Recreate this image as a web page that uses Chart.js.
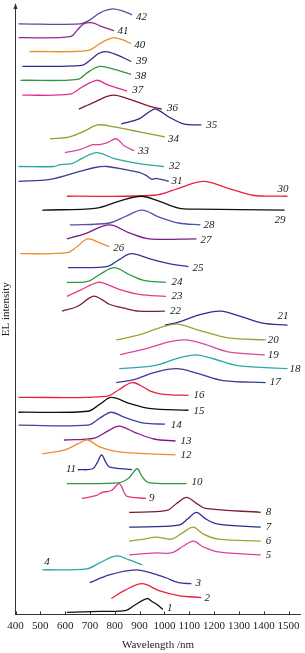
<!DOCTYPE html>
<html><head><meta charset="utf-8">
<script src="https://cdn.jsdelivr.net/npm/chart.js@4/dist/chart.umd.min.js"></script>
<style>html,body{margin:0;padding:0;background:#fff;}#wrap{width:305px;height:653px;position:relative;}</style>
</head><body><div id="wrap"><canvas id="c"></canvas></div>
<script>
// x-axis tick labels (nm)
const xTicks = [400,500,600,700,800,900,1000,1100,1200,1300,1400,1500];
const curveNames = ['1','2','3','4','5','6','7','8','9','10','11','12','13','14','15','16','17','18','19','20','21','22','23','24','25','26','27','28','29','30','31','32','33','34','35','36','37','38','39','40','41','42'];
// each series: [wavelength nm, offset EL intensity (a.u.)]
const s01 = [[607,2],[739,3],[846,4],[878,9],[930,16],[950,13],[970,10],[994,5]];
const s02 = [[786,16],[838,24],[910,31],[978,24],[1057,19],[1149,17]];
const s03 = [[699,32],[778,40],[886,45],[958,41],[1006,37],[1057,32],[1109,31]];
const s04 = [[508,45],[687,46],[739,52],[806,59],[858,55],[910,50]];
const s05 = [[858,60],[966,62],[1029,62],[1077,69],[1117,74],[1157,68],[1217,63],[1388,60]];
const s06 = [[858,74],[920,76],[966,78],[1029,76],[1077,83],[1117,88],[1157,81],[1217,76],[1388,74]];
const s07 = [[858,88],[1057,90],[1097,97],[1129,103],[1169,96],[1217,91],[1388,88]];
const s08 = [[858,103],[1010,105],[1049,112],[1089,118],[1129,112],[1165,107],[1388,103]];
const s09 = [[667,117],[727,120],[747,123],[786,125],[818,132],[838,123],[850,119],[926,117]];
const s10 = [[607,132],[818,133],[858,138],[890,147],[910,139],[938,133],[1089,132]];
const s11 = [[651,146],[711,147],[731,154],[747,161],[763,154],[778,149],[870,146]];
const s12 = [[508,162],[599,166],[651,172],[691,176],[739,169],[818,164],[1045,161]];
const s13 = [[595,176],[719,178],[771,185],[818,190],[878,184],[958,177],[1045,175]];
const s14 = [[412,191],[691,191],[739,198],[786,204],[838,199],[918,193],[1002,192]];
const s15 = [[412,204],[691,205],[739,212],[786,219],[858,213],[938,208],[1097,206]];
const s16 = [[412,219],[767,220],[818,227],[870,234],[918,229],[946,225],[998,222],[1097,221]];
const s17 = [[806,234],[878,237],[958,244],[1049,248],[1137,243],[1237,236],[1408,234]];
const s18 = [[818,248],[958,251],[1049,258],[1125,262],[1197,258],[1296,251],[1496,248]];
const s19 = [[822,262],[938,269],[1018,275],[1085,277],[1157,273],[1257,265],[1404,262]];
const s20 = [[806,277],[898,282],[978,289],[1049,293],[1137,287],[1257,279],[1408,277]];
const s21 = [[1002,292],[1057,295],[1137,302],[1225,306],[1316,300],[1396,294],[1496,292]];
const s22 = [[587,306],[651,311],[711,321],[747,318],[778,313],[838,309],[898,306],[1002,306]];
const s23 = [[607,321],[659,327],[731,335],[759,334],[818,328],[898,323],[1006,321]];
const s24 = [[607,335],[691,336],[739,343],[798,350],[858,343],[918,337],[1006,335]];
const s25 = [[611,350],[767,351],[818,358],[866,364],[938,359],[1018,354],[1097,351]];
const s26 = [[420,364],[607,365],[647,371],[691,379],[739,375],[778,371]];
const s27 = [[607,379],[679,384],[778,393],[858,385],[938,379],[1129,379]];
const s28 = [[619,393],[778,395],[846,402],[910,408],[978,401],[1057,395],[1145,393]];
const s29 = [[508,408],[727,410],[818,417],[906,422],[978,417],[1057,410],[1129,409],[1484,408]];
const s30 = [[607,422],[960,423],[1057,430],[1157,437],[1257,430],[1356,423],[1496,422]];
const s31 = [[412,437],[540,439],[659,447],[720,451],[767,452],[838,449],[898,446],[926,443],[950,439],[966,440],[1018,437]];
const s32 = [[412,452],[555,452],[580,454],[627,455],[667,460],[727,466],[798,460],[898,455],[998,452]];
const s33 = [[599,466],[659,469],[711,474],[739,474],[770,476],[806,480],[838,473],[878,468]];
const s34 = [[540,480],[619,482],[679,488],[731,494],[798,492],[898,487],[1002,482]];
const s35 = [[826,495],[898,500],[938,507],[966,510],[1018,502],[1077,495],[1149,494]];
const s36 = [[655,510],[719,517],[790,524],[858,520],[938,513],[990,510]];
const s37 = [[428,524],[619,525],[667,532],[727,539],[767,535],[850,528]];
const s38 = [[420,539],[650,540],[691,547],[739,553],[798,550],[866,545]];
const s39 = [[428,553],[667,554],[699,559],[735,566],[763,568],[806,565],[866,558]];
const s40 = [[456,568],[690,569],[740,576],[770,580],[798,582],[830,580],[866,576]];
const s41 = [[412,582],[620,583],[650,590],[675,596],[711,597],[740,594],[798,589]];
const s42 = [[412,596],[660,596],[700,600],[740,607],[790,611],[830,609],[870,605]];
const series = [s01,s02,s03,s04,s05,s06,s07,s08,s09,s10,s11,s12,s13,s14,s15,s16,s17,s18,s19,s20,s21,s22,s23,s24,s25,s26,s27,s28,s29,s30,s31,s32,s33,s34,s35,s36,s37,s38,s39,s40,s41,s42];
// label anchor (nm, intensity) for each curve number
const labelAt = [[1010,6],[1161,16],[1125,32],[516,53],[1408,60],[1408,74],[1408,88],[1408,103],[938,117],[1109,133],[603,147],[1065,161],[1065,175],[1026,191],[1117,205],[1117,221],[1424,234],[1504,248],[1416,262],[1416,277],[1456,301],[1022,306],[1029,321],[1029,335],[1113,349],[794,370],[1145,378],[1157,393],[1444,398],[1456,429],[1029,437],[1018,452],[894,468],[1014,480],[1169,494],[1010,511],[870,529],[882,543],[886,558],[878,575],[811,589],[886,603]];
const colors = ['#111111','#e8213f','#35349a','#2aa7a0','#d9449b','#a3a22e','#2b2a88','#7b1d31','#e8337e','#2a9b3c','#2e2e90','#f08a2a','#82198c','#4242a2','#111111','#e8213f','#3a3a9c','#2aa8a8','#d8489a','#a0a030','#2e2e90','#7a2032','#e83a8c','#2a9a3a','#34349c','#f08a28','#7c1a8c','#5b4bab','#111111','#e8213f','#3b3b9c','#2aa8a0','#e0409a','#9c9a2c','#2a2a8a','#7a1c2e','#e0308a','#2e9a3e','#2f2b8c','#f28c28','#8e2a90','#5c4a9e'];

const serif = '"Liberation Serif","Times New Roman",serif';
const decor = {
  id:'decor',
  afterDatasetsDraw(chart){
    const {ctx, scales:{x,y}, chartArea:a} = chart;
    ctx.save();
    ctx.font = 'italic 11px ' + serif;
    ctx.fillStyle = '#222';
    ctx.textAlign = 'left';
    ctx.textBaseline = 'middle';
    curveNames.forEach((n,i)=>{
      ctx.fillText(n, x.getPixelForValue(labelAt[i][0]), y.getPixelForValue(labelAt[i][1]));
    });
    // inward tick marks
    ctx.strokeStyle = '#333'; ctx.lineWidth = 1;
    xTicks.forEach(v=>{
      const px = Math.round(x.getPixelForValue(v)) + 0.5;
      ctx.beginPath(); ctx.moveTo(px, a.bottom); ctx.lineTo(px, a.bottom - 3); ctx.stroke();
    });
    // arrow on intensity axis
    ctx.fillStyle = '#333';
    ctx.beginPath();
    ctx.moveTo(a.left, a.top - 1);
    ctx.lineTo(a.left - 2, a.top + 5);
    ctx.lineTo(a.left + 2, a.top + 5);
    ctx.closePath(); ctx.fill();
    ctx.restore();
  }
};

new Chart(document.getElementById('c'), {
  type:'line',
  data:{
    datasets: series.map((s,i)=>({
      label: curveNames[i],
      data: s.map(p=>({x:p[0], y:p[1]})),
      borderColor: colors[i],
      borderWidth: 1.3,
      pointRadius: 0,
      fill: false,
      tension: 0.35
    }))
  },
  options:{
    responsive:true, maintainAspectRatio:false, animation:false, devicePixelRatio:1,
    layout:{padding:{left:0, right:2, top:4, bottom:0}},
    plugins:{legend:{display:false}, tooltip:{enabled:false}},
    scales:{
      x:{type:'linear', min:400, max:1548,
        afterBuildTicks: s => { s.ticks = xTicks.map(v=>({value:v})); },
        grid:{display:false, drawTicks:false},
        border:{display:true, color:'#333', width:1},
        ticks:{autoSkip:false, maxRotation:0, padding:5.4, color:'#222', font:{family:serif, size:11},
          callback: v => String(v)},
        title:{display:true, text:'Wavelength /nm', color:'#222', font:{family:serif, size:11}, padding:{top:0, bottom:1.4}}
      },
      y:{type:'linear', min:0, max:616,
        grid:{display:false, drawTicks:false},
        border:{display:true, color:'#333', width:1},
        ticks:{display:false},
        title:{display:true, text:'EL intensity', color:'#222', font:{family:serif, size:11}, padding:{top:0, bottom:2.3}}
      }
    }
  },
  plugins:[decor]
});
</script></body></html>
